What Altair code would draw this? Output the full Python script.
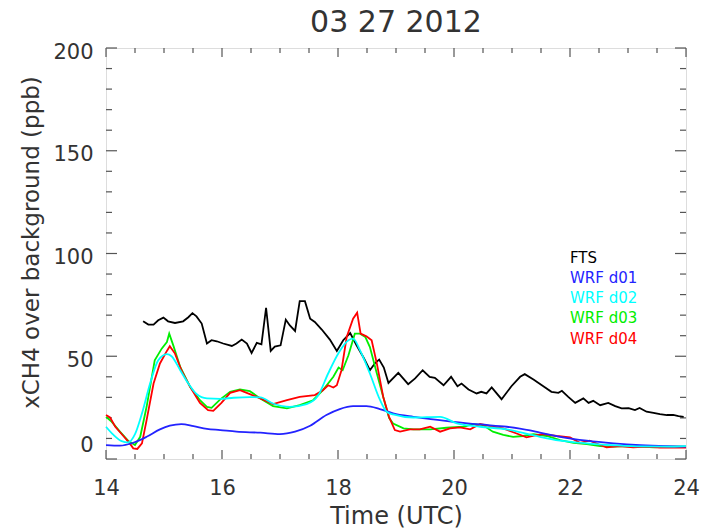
import altair as alt
import pandas as pd

# ---- data ----
fts_t = [14.64, 14.73, 14.82, 14.90, 14.99, 15.07, 15.19, 15.33, 15.42, 15.49, 15.56, 15.65,
         15.74, 15.82, 15.91, 16.02, 16.17, 16.25, 16.34, 16.43, 16.51, 16.60, 16.68, 16.76,
         16.84, 16.91, 17.01, 17.10, 17.17, 17.26, 17.34, 17.43, 17.52, 17.60, 17.72, 17.86,
         17.98, 18.09, 18.21, 18.32, 18.44, 18.55, 18.64, 18.71, 18.79, 18.87, 19.04, 19.21,
         19.33, 19.46, 19.58, 19.67, 19.82, 19.95, 20.06, 20.13, 20.25, 20.39, 20.47, 20.56,
         20.65, 20.82, 20.99, 21.14, 21.22, 21.37, 21.54, 21.68, 21.80, 21.86, 21.97, 22.09,
         22.23, 22.32, 22.40, 22.52, 22.66, 22.78, 22.89, 23.01, 23.12, 23.20, 23.32, 23.44,
         23.55, 23.67, 23.78, 23.87, 23.96]
fts_v = [67, 65.4, 65.4, 67.5, 68.8, 67, 66.2, 67, 69, 71, 69.4, 65.9,
         56.2, 57.8, 57.3, 56.2, 55, 56.2, 58.1, 56.2, 51.6, 56.5, 55.8, 73.6,
         52.6, 54.7, 55.3, 67.8, 65, 62.3, 76.8, 76.8, 68.3, 66.7, 63, 58.1,
         52.6, 57.8, 61.3, 55.3, 49.4, 43.2, 46.7, 48.4, 44.5, 37, 41.9, 36.4,
         39.2, 43.2, 40, 39.5, 35.9, 40, 35.4, 36.7, 33.8, 31.9, 32.7, 31.9,
         34.8, 29.1, 35.4, 40, 41.3, 38.7, 35.4, 32.7, 32.2, 33.2, 30.2, 27.3,
         29.5, 27.3, 28.3, 26.2, 27.3, 25.7, 24.6, 24.8, 23.8, 24.8, 23, 22.5,
         21.8, 21.4, 21.5, 20.9, 20.5]

d01_t = [14.0, 14.24, 14.47, 14.70, 14.93, 15.10, 15.30, 15.51, 15.74, 15.97, 16.25, 16.66,
         17.00, 17.26, 17.52, 17.80, 18.03, 18.26, 18.49, 18.72, 18.95, 19.30, 19.64, 19.99,
         20.45, 20.91, 21.31, 21.48, 21.83, 22.29, 22.75, 23.21, 23.67, 24.0]
d01_v = [6.8, 6.5, 7.9, 10.8, 14.4, 16.2, 17, 16, 14.7, 14.1, 13.3, 12.8,
         12.1, 13.3, 16.2, 21.4, 24.3, 25.7, 25.7, 24.3, 22.2, 20.5, 19.3, 18.1,
         16.8, 15.7, 13.9, 12.8, 10.8, 8.9, 7.6, 6.7, 6.2, 6]

d02_t = [14.0, 14.13, 14.27, 14.38, 14.50, 14.62, 14.76, 14.90, 15.05, 15.13, 15.28, 15.42,
         15.56, 15.74, 15.97, 16.2, 16.48, 16.66, 16.88, 17.17, 17.46, 17.66, 17.83, 18.01,
         18.18, 18.26, 18.38, 18.55, 18.72, 18.84, 18.95, 19.30, 19.76, 20.05, 20.45, 20.91,
         21.31, 21.48, 21.83, 22.29, 22.75, 23.21, 23.67, 24.0]
d02_v = [15.7, 11.7, 8.7, 8.1, 12.1, 22.2, 36.7, 48, 51, 50, 43.2, 36.7,
         31.6, 29.5, 29.3, 29.8, 30.1, 30, 27, 25.4, 26.7, 31, 41.6, 51.6,
         57.8, 58.6, 52.9, 41.6, 29, 23, 21.7, 20.2, 20.5, 17.3, 15.7, 14.4,
         11.9, 10.8, 8.9, 7.6, 6.7, 6.1, 6, 6.3]

d03_t = [14.0, 14.10, 14.24, 14.38, 14.50, 14.59, 14.70, 14.84, 14.96, 15.05, 15.09, 15.16,
         15.28, 15.45, 15.62, 15.74, 15.82, 15.97, 16.14, 16.31, 16.48, 16.66, 16.88, 17.12,
         17.34, 17.57, 17.74, 17.92, 18.01, 18.08, 18.18, 18.29, 18.38, 18.47, 18.55, 18.67,
         18.78, 18.88, 18.95, 19.13, 19.30, 19.59, 19.87, 20.16, 20.33, 20.50, 20.67, 20.85,
         21.02, 21.19, 21.37, 21.60, 21.83, 22.06, 22.29, 22.52, 22.75, 22.98, 23.21, 23.44,
         23.67, 24.0]
d03_v = [20.5, 18.1, 13.3, 8.9, 6.8, 10.8, 25.4, 48, 53.7, 56.9, 61, 55.3,
         44.8, 35.1, 28.6, 25.4, 24.9, 29, 32.7, 33.8, 33, 29.5, 25.7, 24.6,
         26.2, 28.6, 33.5, 40, 44.5, 43.2, 50.5, 61, 61, 59.4, 54.5, 41.6,
         30.2, 20, 17.3, 14.9, 14.4, 14.4, 15.2, 15.7, 17, 16.5, 13.3, 11.7,
         10.8, 11.2, 12.1, 11.2, 9.2, 7.9, 7.3, 6.3, 6, 6.3, 6, 5.7,
         6, 6]

d04_t = [14.0, 14.07, 14.16, 14.30, 14.41, 14.47, 14.54, 14.62, 14.70, 14.82, 14.93, 15.05,
         15.10, 15.19, 15.30, 15.45, 15.62, 15.76, 15.85, 15.99, 16.14, 16.31, 16.48, 16.66,
         16.88, 17.12, 17.34, 17.60, 17.74, 17.83, 17.92, 17.98, 18.06, 18.15, 18.26, 18.33,
         18.39, 18.49, 18.58, 18.67, 18.78, 18.88, 18.98, 19.07, 19.24, 19.41, 19.59, 19.76,
         19.93, 20.10, 20.28, 20.45, 20.62, 20.85, 21.08, 21.25, 21.40, 21.54, 21.77, 22.00,
         22.17, 22.34, 22.52, 22.63, 22.86, 23.09, 23.32, 23.55, 23.78, 24.0]
d04_v = [21.4, 20.2, 15.7, 11.2, 7.6, 5.2, 4.9, 7.6, 18.9, 36.7, 46.5, 52.6,
         54.9, 51.3, 43.2, 35.1, 27.3, 23.8, 23.4, 27.3, 32.2, 33.5, 31.6, 29.5,
         26.7, 28.6, 30.2, 31.1, 33.5, 35.9, 34.8, 35.9, 43.2, 59.4, 68.3, 71.2,
         61, 59.7, 57.8, 46.4, 30.2, 20.5, 14.1, 13.3, 14.4, 14.4, 15.7, 13.3,
         14.9, 15.4, 14.4, 17, 16, 14.9, 12.4, 10.5, 11.5, 12.1, 11.2, 10.5,
         7.9, 8.9, 6.8, 5.7, 6.3, 5.7, 6, 5.5, 5.5, 5.5]

series_names = ["FTS", "WRF d01", "WRF d02", "WRF d03", "WRF d04"]
series_colors = ["#000000", "#2323ff", "#00ffff", "#00ee00", "#ff0000"]
smooth_series = ["WRF d01", "WRF d02"]

x_major = [14, 16, 18, 20, 22, 24]
x_minor = [14.5, 15, 15.5, 16.5, 17, 17.5, 18.5, 19, 19.5, 20.5, 21, 21.5, 22.5, 23, 23.5]
y_major = [0, 50, 100, 150, 200]
y_minor = [10, 20, 30, 40, 60, 70, 80, 90, 110, 120, 130, 140, 160, 170, 180, 190]

title_text = "03 27 2012"
x_title = "Time (UTC)"
y_title = "xCH4 over background (ppb)"

# ---- build ----
rows = []
for name, ts, vs in zip(series_names, [fts_t, d01_t, d02_t, d03_t, d04_t],
                        [fts_v, d01_v, d02_v, d03_v, d04_v]):
    for i, (t, v) in enumerate(zip(ts, vs)):
        rows.append({"series": name, "t": t, "v": v, "order": i})
df = pd.DataFrame(rows)

W, H = 580, 411
FONT = "DejaVu Sans"
TXT = "#333333"
AX = "#555555"

xscale = alt.Scale(domain=[14, 24], nice=False, zero=False)
yscale = alt.Scale(domain=[0, 200], nice=False, zero=True)
cscale = alt.Scale(domain=series_names, range=series_colors)

xaxis = alt.Axis(values=x_major, ticks=False, domain=False, grid=False,
                 labelFont=FONT, labelFontSize=21, labelColor=TXT, labelPadding=18,
                 labelFlush=False, format="d",
                 title=x_title, titleFont=FONT, titleFontSize=24, titleFontWeight="normal",
                 titleColor=TXT, titleY=64, titleBaseline="alphabetic")
yaxis = alt.Axis(values=y_major, ticks=False, domain=False, grid=False,
                 labelFont=FONT, labelFontSize=21, labelColor=TXT, labelPadding=13,
                 labelBaseline="middle", labelFlush=False, format="d",
                 labelOffset={"condition": {"test": "datum.value == 0", "value": -14}, "value": 4},
                 title=y_title, titleFont=FONT, titleFontSize=23, titleFontWeight="normal",
                 titleColor=TXT, titleX=-68, titleY=194, titleAngle=270,
                 titleBaseline="alphabetic")

X = alt.X("t:Q", scale=xscale, axis=xaxis)
Y = alt.Y("v:Q", scale=yscale, axis=yaxis)
C = alt.Color("series:N", scale=cscale, legend=None)

base = alt.Chart(df)
smooth = base.transform_filter(
    alt.FieldOneOfPredicate(field="series", oneOf=smooth_series)
).mark_line(strokeWidth=1.8, interpolate="monotone").encode(x=X, y=Y, color=C, order="order:Q")
jagged = base.transform_filter(
    ~alt.FieldOneOfPredicate(field="series", oneOf=smooth_series)
).mark_line(strokeWidth=1.8).encode(x=X, y=Y, color=C, order="order:Q")

# legend as coloured text
leg_df = pd.DataFrame({"series": series_names, "idx": list(range(len(series_names)))})
legend = alt.Chart(leg_df).transform_calculate(
    t="22.0", v="97.8 - datum.idx * 9.8"
).mark_text(align="left", baseline="middle", font=FONT, fontSize=15).encode(
    x=X, y=Y, text="series:N", color=C
)

# inward ticks on all four sides
def xticks(vals, L):
    b = alt.Chart(pd.DataFrame({"t": vals}))
    bottom = b.mark_rule(color=AX, strokeWidth=1.2).encode(x=X, y=alt.value(H), y2=alt.value(H - L))
    top = b.mark_rule(color=AX, strokeWidth=1.2).encode(x=X, y=alt.value(0), y2=alt.value(L))
    return [bottom, top]

def yticks(vals, L):
    b = alt.Chart(pd.DataFrame({"v": vals}))
    left = b.mark_rule(color=AX, strokeWidth=1.2).encode(y=Y, x=alt.value(0), x2=alt.value(L))
    right = b.mark_rule(color=AX, strokeWidth=1.2).encode(y=Y, x=alt.value(W), x2=alt.value(W - L))
    return [left, right]

tick_layers = xticks(x_major, 9) + xticks(x_minor, 5) + yticks(y_major, 11) + yticks(y_minor, 6)

chart = alt.layer(*tick_layers, jagged, smooth, legend).properties(
    width=W, height=H,
    title=alt.TitleParams(title_text, font=FONT, fontSize=30, fontWeight="normal",
                          color=TXT, anchor="middle", baseline="alphabetic", offset=8, dy=29),
    padding={"left": 106, "top": 48, "right": 15, "bottom": 69},
    autosize="none",
).configure_view(stroke=AX, strokeWidth=1.5).configure(background="white")

chart.save("out.html", embed_options={"renderer": "svg", "actions": False})
